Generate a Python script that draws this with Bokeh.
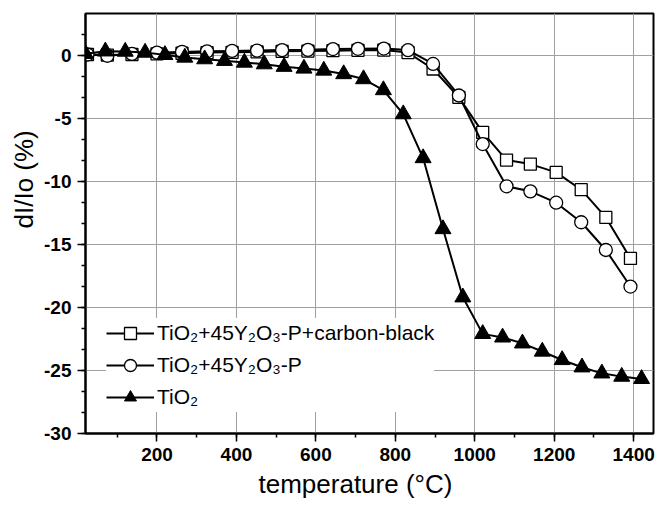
from bokeh.plotting import figure
from bokeh.models import (Range1d, Legend, LegendItem, Title, SingleIntervalTicker,
                          PrintfTickFormatter)
from bokeh.embed import file_html
from bokeh.resources import INLINE

# ---- data ----
temp_tio2 = [20, 70, 120, 170, 220, 270, 320, 370, 420, 470, 520, 570, 620, 670,
             720, 770, 820, 870, 920, 970, 1020, 1070, 1120, 1170, 1220, 1270,
             1320, 1370, 1420]
dio_tio2 = [0.1, 0.3, 0.28, 0.2, 0.02, -0.19, -0.32, -0.45, -0.59, -0.72, -0.92,
            -1.06, -1.22, -1.5, -1.9, -2.77, -4.68, -8.16, -13.79, -19.2, -22.1,
            -22.38, -22.85, -23.5, -24.17, -24.75, -25.23, -25.49, -25.67]

temp_y2o3 = [25, 75, 137, 200, 263, 326, 389, 452, 515, 580, 643, 706, 771, 832,
             895, 960, 1020, 1080, 1140, 1205, 1268, 1330, 1392]
dio_y2o3_p = [0.05, -0.05, 0.1, 0.2, 0.25, 0.3, 0.33, 0.36, 0.4, 0.42, 0.48, 0.5,
              0.52, 0.4, -0.7, -3.2, -7.05, -10.4, -10.8, -11.7, -13.25, -15.45,
              -18.35]
dio_y2o3_p_cb = [0.05, 0.0, 0.05, 0.1, 0.15, 0.2, 0.22, 0.25, 0.3, 0.32, 0.35, 0.38,
                 0.4, 0.2, -1.1, -3.35, -6.13, -8.32, -8.64, -9.3, -10.67, -12.87,
                 -16.12]

labels = ["TiO\u2082+45Y\u2082O\u2083-P+carbon-black",
          "TiO\u2082+45Y\u2082O\u2083-P",
          "TiO\u2082"]
x_title = "temperature (\u00b0C)"
y_title = "dI/Io (%)"

FONT = "Liberation Sans"

p = figure(width=669, height=511, output_backend="svg", toolbar_location=None,
           x_range=Range1d(20, 1450), y_range=Range1d(-30, 3.3),
           min_border_left=85, min_border_right=16, min_border_top=13,
           min_border_bottom=78)
p.background_fill_color = "white"
p.border_fill_color = "white"
p.outline_line_color = "black"
p.outline_line_width = 2

# grid
for g in (p.xgrid, p.ygrid):
    g.grid_line_color = "#a0a0a0"
    g.grid_line_width = 1

# axes
p.xaxis.ticker = SingleIntervalTicker(interval=200, num_minor_ticks=2)
p.yaxis.ticker = SingleIntervalTicker(interval=5, num_minor_ticks=3)
for ax in (p.xaxis, p.yaxis):
    ax.formatter = PrintfTickFormatter(format="%d")
    ax.axis_line_width = 2
    ax.axis_line_color = "black"
    ax.major_tick_line_color = "black"
    ax.major_tick_line_width = 1.5
    ax.minor_tick_line_color = "black"
    ax.minor_tick_line_width = 1.5
    ax.major_tick_in = 0
    ax.major_tick_out = 8
    ax.minor_tick_in = 0
    ax.minor_tick_out = 4
    ax.major_label_text_font = FONT
    ax.major_label_text_font_style = "bold"
    ax.major_label_text_font_size = "19px"
    ax.major_label_text_color = "black"
p.xaxis.major_label_standoff = 6
p.yaxis.major_label_standoff = 6

# axis titles (as side titles so they can be offset like the reference)
p.add_layout(Title(text=x_title, align="left", offset=173, standoff=6,
                   text_font=FONT, text_font_style="normal", text_font_size="26px",
                   text_color="black"), "below")
p.add_layout(Title(text=y_title, align="left", offset=205, standoff=6,
                   text_font=FONT, text_font_style="normal", text_font_size="26px",
                   text_color="black"), "left")

# series
l1 = p.line(temp_y2o3, dio_y2o3_p_cb, line_color="black", line_width=2)
s1 = p.scatter(temp_y2o3, dio_y2o3_p_cb, marker="square", size=12,
               fill_color="white", line_color="black", line_width=1.3)
l2 = p.line(temp_y2o3, dio_y2o3_p, line_color="black", line_width=2)
s2 = p.scatter(temp_y2o3, dio_y2o3_p, marker="circle", size=13,
               fill_color="white", line_color="black", line_width=1.3)
l3 = p.line(temp_tio2, dio_tio2, line_color="black", line_width=2)
s3 = p.scatter(temp_tio2, dio_tio2, marker="triangle", size=16,
               fill_color="black", line_color="black", line_width=1)

legend = Legend(items=[LegendItem(label=labels[0], renderers=[l1, s1]),
                       LegendItem(label=labels[1], renderers=[l2, s2]),
                       LegendItem(label=labels[2], renderers=[l3, s3])],
                location=(21, 21))
legend.border_line_color = None
legend.background_fill_color = "white"
legend.background_fill_alpha = 1
legend.padding = 6
legend.margin = 0
legend.spacing = 2
legend.glyph_width = 48
legend.glyph_height = 30
legend.label_height = 30
legend.label_standoff = 3
legend.label_text_font = FONT
legend.label_text_font_size = "21px"
legend.label_text_color = "black"
p.add_layout(legend)

open("out.html", "w").write(file_html(p, INLINE))
